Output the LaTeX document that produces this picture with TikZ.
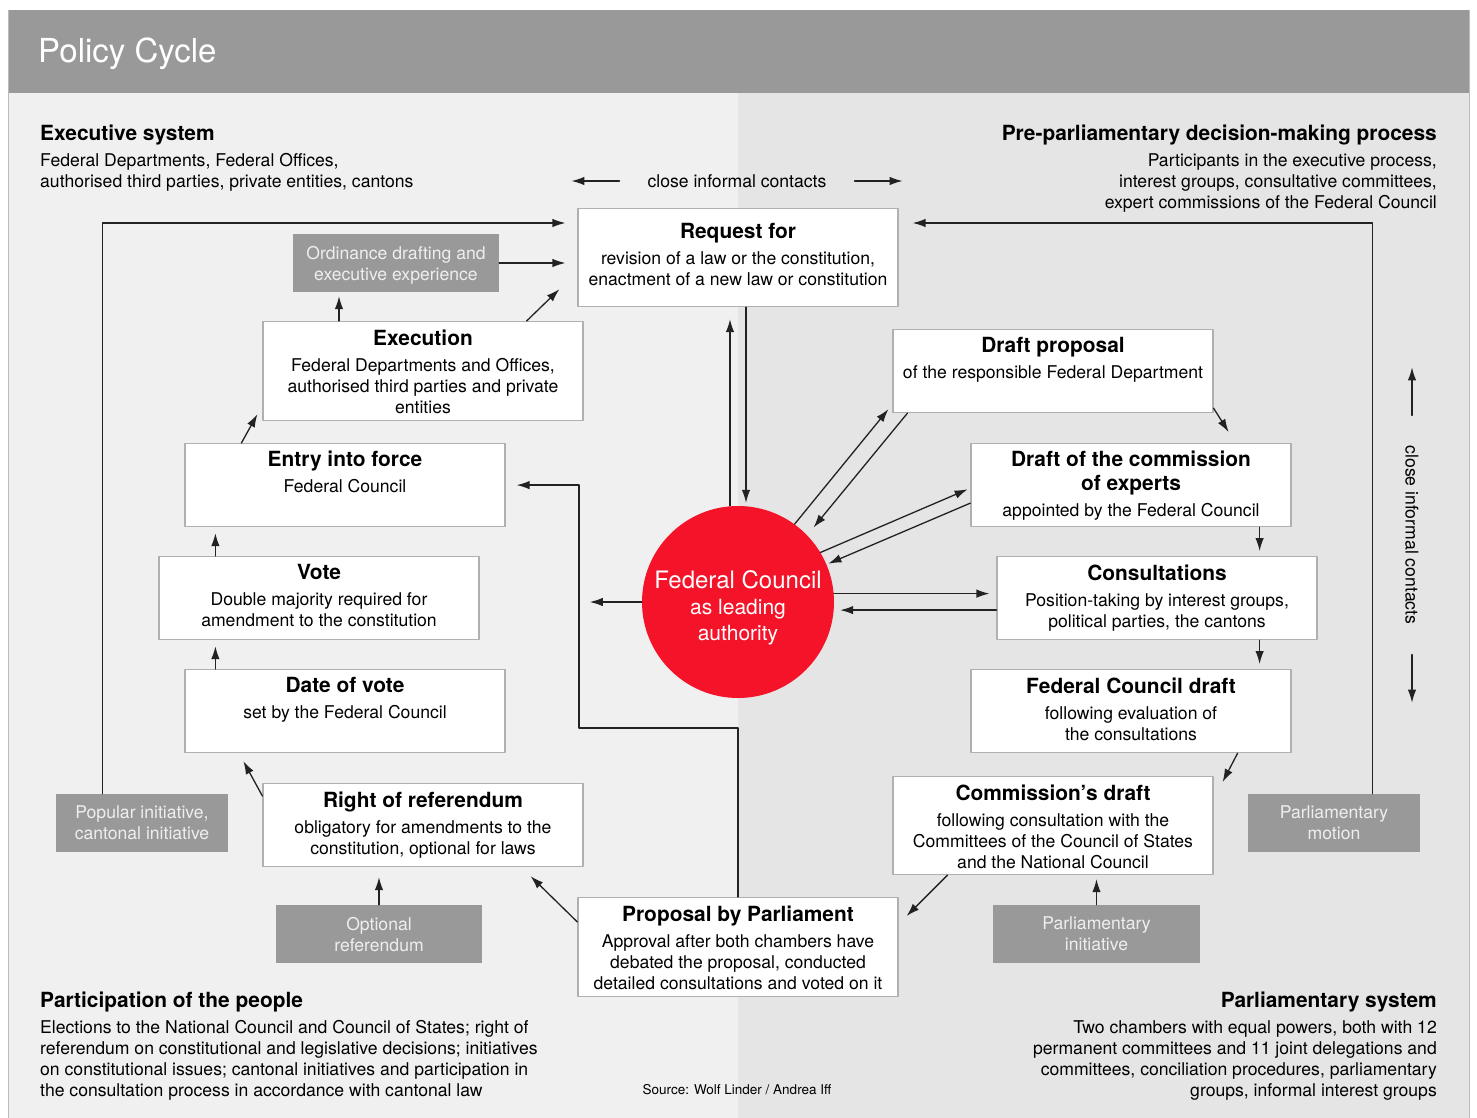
\documentclass[tikz,border=0pt]{standalone}
\usepackage{fontspec}
\setmainfont{TeX Gyre Heros}
\usetikzlibrary{arrows.meta}

\definecolor{barGray}{HTML}{999999}
\definecolor{leftBg}{HTML}{F0F0F0}
\definecolor{rightBg}{HTML}{E5E5E5}
\definecolor{frameLine}{HTML}{BBBBBB}
\definecolor{boxLine}{HTML}{B0B0B0}
\definecolor{sideGray}{HTML}{999999}
\definecolor{sideText}{HTML}{EEEEEE}
\definecolor{fcRed}{HTML}{F5132A}
\definecolor{ink}{HTML}{222222}

\newcommand{\headfont}{\fontsize{20.9}{24}\selectfont\bfseries}
\newcommand{\bodyfont}{\fontsize{17.6}{21}\selectfont}
\newcommand{\stagetext}[4]{\parbox[c][#1pt][t]{320pt}{\centering\vspace*{#2pt}{\headfont #3\par}\vspace{5pt}{\bodyfont #4\par}}}

\tikzset{
  stage/.style={draw=boxLine, line width=1.2pt, fill=white, inner sep=0pt, anchor=north},
  side/.style={fill=sideGray, text=sideText, font=\bodyfont, align=center, inner sep=0pt, text depth=-3pt},
  flow/.style={draw=ink, line width=1.3pt, -{Latex[length=13pt,width=8.5pt]}},
  label/.style={inner sep=0pt, font=\bodyfont}
}

\begin{document}
\begin{tikzpicture}[x=1pt,y=-1pt,line cap=round,line join=round]
        \useasboundingbox (0,0) rectangle (1477,1118);
        \fill[white] (0,0) rectangle (1477,1118);
        \fill[barGray] (8,10) rectangle (1469,93);
        \fill[leftBg] (8,93) rectangle (738,1118);
        \fill[rightBg] (738,93) rectangle (1469,1118);
        \draw[frameLine] (8,10) -- (8,1118);
        \draw[frameLine] (1469,10) -- (1469,1118);

        \node[anchor=west, inner sep=0pt, text=white, font=\fontsize{33}{37}\selectfont] (title) at (38,54) {Policy Cycle};

        % the four systems
        \node[label, anchor=north west, align=left] (execsys) at (40,125) {{\headfont Executive system}\\[5pt]Federal Departments, Federal Offices,\\authorised third parties, private entities, cantons};
        \node[label, anchor=north east, align=right] (presys) at (1437,125) {{\headfont Pre-parliamentary decision-making process}\\[5pt]Participants in the executive process,\\interest groups, consultative committees,\\expert commissions of the Federal Council};
        \node[label, anchor=north west, align=left] (people) at (40,992) {{\headfont Participation of the people}\\[5pt]Elections to the National Council and Council of States; right of\\referendum on constitutional and legislative decisions; initiatives\\on constitutional issues; cantonal initiatives and participation in\\the consultation process in accordance with cantonal law};
        \node[label, anchor=north east, align=right] (parlsys) at (1437,992) {{\headfont Parliamentary system}\\[5pt]Two chambers with equal powers, both with 12\\permanent committees and 11 joint delegations and\\committees, conciliation procedures, parliamentary\\groups, informal interest groups};
        \node[inner sep=0pt, font=\fontsize{13.5}{16}\selectfont] (source) at (737,1090) {Source: Wolf Linder / Andrea Iff};

        % stages of the cycle
        \node[stage] (request) at (738,208) {\stagetext{98}{15}{Request for}{revision of a law or the constitution,\\enactment of a new law or constitution}};
        \node[stage] (execution) at (423,321) {\stagetext{99}{8}{Execution}{Federal Departments and Offices,\\authorised third parties and private\\entities}};
        \node[stage] (entry) at (345,443) {\stagetext{83}{7}{Entry into force}{Federal Council}};
        \node[stage] (vote) at (319,556) {\stagetext{83}{8}{Vote}{Double majority required for\\amendment to the constitution}};
        \node[stage] (datevote) at (345,669) {\stagetext{83}{8}{Date of vote}{set by the Federal Council}};
        \node[stage] (referendum) at (423,783) {\stagetext{83}{8}{Right of referendum}{obligatory for amendments to the\\constitution, optional for laws}};
        \node[stage] (proposal) at (738,897) {\stagetext{99}{8}{Proposal by Parliament}{Approval after both chambers have\\debated the proposal, conducted\\detailed consultations and voted on it}};
        \node[stage] (commission) at (1053,776) {\stagetext{98}{8}{Commission’s draft}{following consultation with the\\Committees of the Council of States\\and the National Council}};
        \node[stage] (fcdraft) at (1131,669) {\stagetext{83}{8}{Federal Council draft}{following evaluation of\\the consultations}};
        \node[stage] (consult) at (1157,556) {\stagetext{83}{8}{Consultations}{Position-taking by interest groups,\\political parties, the cantons}};
        \node[stage] (experts) at (1131,443) {\stagetext{83}{7}{Draft of the commission\\of experts}{appointed by the Federal Council}};
        \node[stage] (draftprop) at (1053,329) {\stagetext{83}{8}{Draft proposal}{of the responsible Federal Department}};

        % inputs
        \node[side, minimum width=206pt, minimum height=58pt] (ordinance) at (396,263) {Ordinance drafting and\\executive experience};
        \node[side, minimum width=172pt, minimum height=58pt] (popular) at (142,823) {Popular initiative,\\cantonal initiative};
        \node[side, minimum width=206pt, minimum height=58pt] (optional) at (379,934) {Optional\\referendum};
        \node[side, minimum width=207pt, minimum height=58pt] (parlinit) at (1096.5,934) {Parliamentary\\initiative};
        \node[side, minimum width=172pt, minimum height=58pt] (motion) at (1334,823) {Parliamentary\\motion};

        \node[circle, fill=fcRed, minimum size=192pt, inner sep=0pt] (fc) at (738,602) {};
        \node[inner sep=0pt, text=white, align=center, font=\fontsize{21}{26}\selectfont] (fctext) at ([yshift=-6pt]fc.center) {{\fontsize{24}{26}\selectfont Federal Council}\\as leading\\authority};

        % left half of the cycle
        \draw[flow, shorten >=12pt] ([xshift=47pt]popular.north west) |- ([yshift=-15pt]request.north west);
        \draw[flow, shorten >=12pt] (ordinance.east) -- (ordinance.east -| request.west);
        \draw[flow, shorten >=4pt] ([xshift=-57pt]ordinance.south |- execution.north) -- ([xshift=-57pt]ordinance.south);
        \draw[flow] ([xshift=-57pt]execution.north east) -- ([xshift=-18pt,yshift=18pt]request.south west);
        \draw[flow] ([xshift=57pt]entry.north west) -- ([xshift=-5pt,yshift=7pt]execution.south west);
        \draw[flow, shorten >=6pt] ([xshift=57pt]vote.north west) -- ([xshift=31pt]entry.south west);
        \draw[flow, shorten >=6pt] ([xshift=31pt]datevote.north west) -- ([xshift=57pt]vote.south west);
        \draw[flow] ([yshift=-13pt]referendum.north west) -- ([xshift=59pt,yshift=-8pt]datevote.south west);
        \draw[flow, shorten >=10pt] (optional.north) -- (optional.north |- referendum.south);
        \draw[flow] ([yshift=-25pt]proposal.north west) -- ([xshift=-53pt,yshift=-9pt]referendum.south east);
        \coordinate (bend) at (579,728);
        \draw[flow, shorten >=11pt] (proposal.north) |- (bend) |- (entry.east);

        % right half of the cycle
        \draw[flow, shorten >=14pt] ([xshift=-48pt]motion.north east) |- ([yshift=-15pt]request.north east);
        \draw[flow] ([yshift=5pt]draftprop.south east) -- ([xshift=-63pt,yshift=11pt]experts.north east);
        \draw[flow, shorten >=5pt] ([xshift=-32pt]experts.south east) -- ([xshift=-58pt]consult.north east);
        \draw[flow, shorten >=5pt] ([xshift=-58pt]consult.south east) -- ([xshift=-32pt]fcdraft.north east);
        \draw[flow] ([xshift=-54pt]fcdraft.south east) -- ([xshift=9pt,yshift=-6pt]commission.north east);
        \draw[flow, shorten >=4pt] (parlinit.north) -- (parlinit.north |- commission.south);
        \draw[flow] ([xshift=55pt]commission.south west) -- ([xshift=8pt,yshift=-19pt]proposal.north east);

        % federal council
        \draw[flow, shorten >=3pt] ([xshift=8pt]request.south) -- ([xshift=8pt]request.south |- fc.north);
        \draw[flow, shorten >=12pt] ([xshift=-8pt]fc.north) -- ([xshift=-8pt]fc.north |- request.south);
        \draw[flow] (fc.54) -- ([xshift=-4pt,yshift=4pt]draftprop.south west);
        \draw[flow, shorten >=10pt] ([xshift=15pt]draftprop.south west) -- (fc.44);
        \draw[flow, shorten >=3pt] (fc.31) -- ([yshift=-3pt]experts.west);
        \draw[flow, shorten >=2pt] ([yshift=-18pt]experts.west) -- (fc.23);
        \draw[flow, shorten >=7pt] (fc.5) -- (fc.5 -| consult.west);
        \draw[flow, shorten >=6pt] ([yshift=-12pt]consult.west) -- ([yshift=-12pt]consult.west -| fc.east);
        \draw[flow] (fc.west) -- ([xshift=-52pt]fc.west);

        % informal contacts
        \node[label] (topcontacts) at (737,181) {close informal contacts};
        \draw[flow] ([xshift=-28pt]topcontacts.west) -- ++(-48pt,0pt);
        \draw[flow] ([xshift=28pt]topcontacts.east) -- ++(48pt,0pt);
        \node[label, rotate=-90] (sidecontacts) at (1412,535) {close informal contacts};
        \draw[flow] ([yshift=30pt]sidecontacts.west) -- ++(0pt,48pt);
        \draw[flow] ([yshift=-30pt]sidecontacts.east) -- ++(0pt,-48pt);
\end{tikzpicture}
\end{document}
